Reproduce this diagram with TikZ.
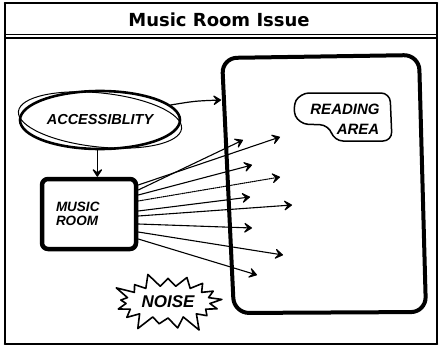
\documentclass[tikz,border=0pt]{standalone}
\usepackage{fontspec}
\setmainfont{Liberation Sans}
\newfontfamily\titlefont{DejaVu Sans}
\usetikzlibrary{arrows.meta,shapes.geometric,shapes.symbols}
\tikzset{
  pen/.style={line width=#1,line cap=round,line join=round},
  hand/.style={font=\fontsize{#1}{#1}\selectfont\itshape\bfseries},
  barb/.style={-{Stealth[length=10pt,width=13pt,inset=5pt,round]}},
  noisebeam/.style={pen=1.1pt,barb}
}
\begin{document}
\begin{tikzpicture}[x=1pt,y=-1pt]
\useasboundingbox (0,0) rectangle (439,348);
\fill[white] (0,0) rectangle (439,348);

% frame and title bar
\draw[pen=1.4pt] (5,3) rectangle (437,344);
\draw[pen=2.6pt] (5,3) -- (437,3);
\draw[pen=2.6pt] (5,344) -- (437,344);
\draw[pen=1.2pt] (5,34.5) -- (437,34.5);
\draw[pen=2pt] (5,38) -- (437,38);
\node[font=\titlefont\bfseries\fontsize{18}{20}\selectfont] (title) at (219,20) {Music Room Issue};

% reading area block
\draw[pen=4pt,rounded corners=15pt] (222,58) -- (419,55) -- (426,312) -- (234,313) -- cycle;
\coordinate (wall) at (221,100);

\node[hand=15] (reading) at (345,109) {READING};
\node[hand=15] (area) at (358,129) {AREA};
\draw[pen=1.5pt,rounded corners=9pt]
  (300,93) -- (390,93) -- (392,141) -- (334,141) -- (329,125) -- (299,124) -- (292,108) -- cycle;

% accessibility
\node[ellipse,draw,pen=2.6pt,minimum width=160pt,minimum height=58pt,hand=14.5] (access) at (100,120) {ACCESSIBLITY};
\draw[pen=1pt,rotate around={-6:(100,120)}] (100,120) ellipse (82pt and 27pt);

% music room
\node[draw,pen=4.5pt,rounded corners=6pt,minimum width=94pt,minimum height=70pt,
  text width=66pt,align=left,hand=13.5] (music) at (89,214) {MUSIC\\ROOM};

\draw[pen=1.2pt,barb] (access.12) .. controls (195,101) .. (wall);
\draw[pen=1.2pt,barb] (access.-95) -- (music.north -| access.-95);

% noise into the reading area
\foreach \k/\sy/\tx/\ty in {1/185/280/137, 2/190/243/140, 3/195/252/165,
  5/211/250/197, 6/216/292/205, 7/224/252/228, 8/232/283/255, 9/239/257/275}{
  \coordinate (tip\k) at (\tx,\ty);
  \draw[noisebeam] (music.east |- 0,\sy) -- (tip\k);
}
\coordinate (tip4) at (280,177);
\draw[noisebeam,densely dotted] (music.east |- 0,201) -- (tip4);

% noise burst
\node[starburst,draw,pen=1.6pt,starburst points=17,starburst point height=17pt,
  random starburst=9,minimum width=112pt,minimum height=66pt,hand=17] (noise) at (168,302) {NOISE};
\end{tikzpicture}
\end{document}
